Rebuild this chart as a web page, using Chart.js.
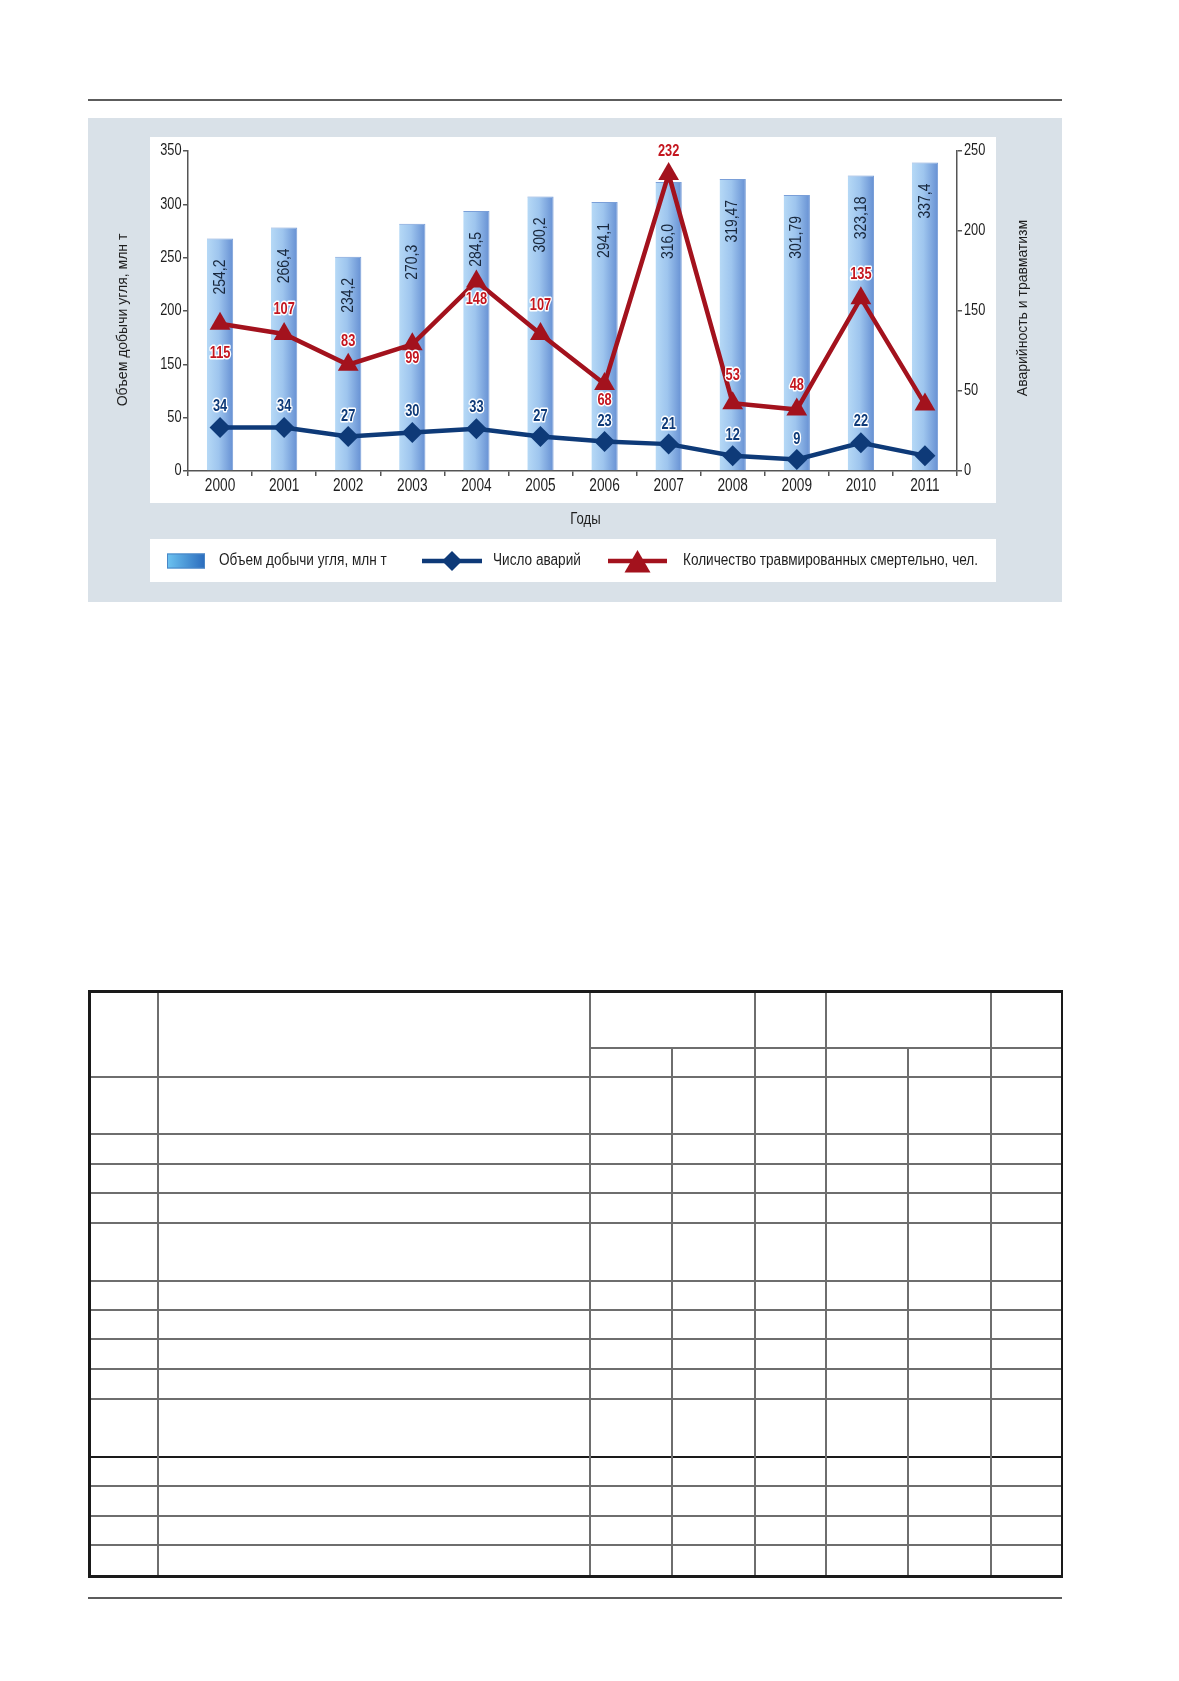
<!DOCTYPE html>
<html lang="ru">
<head>
<meta charset="utf-8">
<title>Объем добычи угля, аварийность и травматизм</title>
<script src="https://cdn.jsdelivr.net/npm/chart.js@4.4.1/dist/chart.umd.min.js"></script>
<style>
  html, body { margin: 0; padding: 0; background: #fff; }
  body { width: 1179px; height: 1681px; position: relative; overflow: hidden; }
  .rule { position: absolute; left: 88px; width: 974px; height: 2px; background: #5c5c5c; }
  #panel { position: absolute; left: 88px; top: 118px; width: 974px; height: 484px; background: #d9e1e8; }
  .white { position: absolute; background: #fff; }
  #chartBox { position: absolute; left: 0; top: 0; width: 974px; height: 484px; }
  #grid div { position: absolute; }
</style>
</head>
<body>
<div class="rule" style="top:99px"></div>
<div id="panel">
  <div class="white" style="left:62px;top:19px;width:846px;height:366px"></div>
  <div class="white" style="left:62px;top:421px;width:846px;height:43px"></div>
  <div id="chartBox"><canvas id="mainChart"></canvas></div>
</div>
<div id="grid"></div>
<div class="rule" style="top:1597px"></div>

<script>
// данные
var years = ['2000', '2001', '2002', '2003', '2004', '2005', '2006', '2007', '2008', '2009', '2010', '2011'];
var coalOutput = [254.2, 266.4, 234.2, 270.3, 284.5, 300.2, 294.1, 316.0, 319.47, 301.79, 323.18, 337.4];
var coalOutputText = ['254,2', '266,4', '234,2', '270,3', '284,5', '300,2', '294,1', '316,0', '319,47', '301,79', '323,18', '337,4'];
var accidents = [34, 34, 27, 30, 33, 27, 23, 21, 12, 9, 22, 12];
var fatalities = [115, 107, 83, 99, 148, 107, 68, 232, 53, 48, 135, 52];
var leftTickLabels = ['0', '50', '150', '200', '250', '300', '350'];
var rightTickLabels = ['0', '50', '150', '200', '250'];

// оформление
var FONT = '"Liberation Sans", Arial, Helvetica, sans-serif';
var NAVY = '#0e3a78';
var RED = '#a3121d';
var AXIS = '#555555';
var TEXT = '#1e1e1e';
var barLabelShift = [0, 0, 0, 0, 0, 0, 0, 21, 0, 0, 0, 0];    // подпись 2007 ниже из-за треугольника
var accidentLabelDy = [-21, -21, -20, -21, -21, -20, -20, -20, -20, -20, -21, null];
var fatalityLabelDy = [30, -24, -23, 14, 18, -28, 17, -22, -28, -24, -24, null];

// узкий шрифт: обычный Liberation Sans, сжатый по горизонтали
function narrowText(ctx, text, x, y, o) {
    ctx.save();
    ctx.translate(x, y);
    if (o.rotate) ctx.rotate(o.rotate);
    ctx.scale(o.squeeze || 0.82, 1);
    ctx.font = (o.weight ? o.weight + ' ' : '') + o.size + 'px ' + FONT;
    ctx.textAlign = o.align || 'center';
    ctx.textBaseline = 'middle';
    if (o.halo) {
        ctx.lineJoin = 'round';
        ctx.lineWidth = o.halo;
        ctx.strokeStyle = '#ffffff';
        ctx.strokeText(text, 0, 0);
    }
    ctx.fillStyle = o.color || TEXT;
    ctx.fillText(text, 0, 0);
    ctx.restore();
}

// градиент столбиков по ширине столбика
function barGradient(c) {
    var chart = c.chart;
    if (!chart.chartArea || c.type !== 'data') return '#9fc6ef';
    var xs = chart.scales.x;
    var x = xs.getPixelForValue(c.dataIndex);
    var half = xs.width / years.length * 0.41 / 2;
    var g = chart.ctx.createLinearGradient(x - half, 0, x + half, 0);
    g.addColorStop(0, '#b6d9f6');
    g.addColorStop(0.45, '#9ec5ee');
    g.addColorStop(1, '#6690d3');
    return g;
}

// подписи делений осей (по позициям шкал Chart.js)
var tickText = {
    id: 'tickText',
    afterDraw: function(chart) {
        var ctx = chart.ctx;
        var xs = chart.scales.x, ys = chart.scales.y, y2 = chart.scales.y2;
        xs.ticks.forEach(function(t, i) {
            narrowText(ctx, t.label, xs.getPixelForTick(i), xs.top + 15, {size: 18, squeeze: 0.76});
        });
        ys.ticks.forEach(function(t, i) {
            narrowText(ctx, t.label, ys.right - 6.5, ys.getPixelForTick(i), {size: 16, squeeze: 0.8, align: 'right'});
        });
        y2.ticks.forEach(function(t, i) {
            narrowText(ctx, t.label, y2.left + 7, y2.getPixelForTick(i), {size: 16, squeeze: 0.8, align: 'left'});
        });
        narrowText(ctx, xs.options.title.text, (xs.left + xs.right) / 2 + 13, xs.top + 49, {size: 16, squeeze: 0.82});
    }
};

// подписи значений на столбиках (под линиями)
var barLabels = {
    id: 'barLabels',
    afterDatasetDraw: function(chart, args) {
        if (args.index !== 0) return;
        args.meta.data.forEach(function(el, i) {
            narrowText(chart.ctx, coalOutputText[i], el.x, el.y + 21 + barLabelShift[i],
                {size: 17, squeeze: 0.82, align: 'right', rotate: -Math.PI / 2, color: '#18273c'});
        });
    }
};

// подписи точек линий с белой обводкой
var pointLabels = {
    id: 'pointLabels',
    afterDatasetsDraw: function(chart) {
        [[1, accidentLabelDy, NAVY], [2, fatalityLabelDy, '#c4161f']].forEach(function(s) {
            var meta = chart.getDatasetMeta(s[0]);
            var values = chart.data.datasets[s[0]].data;
            meta.data.forEach(function(pt, i) {
                if (s[1][i] === null) return;
                narrowText(chart.ctx, String(values[i]), pt.x, pt.y + s[1][i],
                    {size: 16, weight: 'bold', squeeze: 0.8, color: s[2], halo: 3});
            });
        });
    }
};

// названия осей (обе читаются снизу вверх) и легенда
var extras = {
    id: 'extras',
    afterDraw: function(chart) {
        var ctx = chart.ctx;
        var ds = chart.data.datasets;
        ctx.save();
        ctx.fillStyle = TEXT;
        ctx.font = '14px ' + FONT;
        ctx.textAlign = 'center';
        ctx.textBaseline = 'middle';
        [[35, 202, chart.options.scales.y.title.text], [935, 190, chart.options.scales.y2.title.text]].forEach(function(t) {
            ctx.save();
            ctx.translate(t[0], t[1]);
            ctx.rotate(-Math.PI / 2);
            ctx.fillText(t[2], 0, 0);
            ctx.restore();
        });

        var cy = 443;
        // значок столбика
        var g = ctx.createLinearGradient(79, 0, 117, 0);
        g.addColorStop(0, '#6cc3f1');
        g.addColorStop(1, '#2b6cbd');
        ctx.fillStyle = g;
        ctx.fillRect(79, cy - 7.5, 38, 15);
        ctx.strokeStyle = '#4a86c6';
        ctx.lineWidth = 1;
        ctx.strokeRect(79.5, cy - 7, 37, 14);
        // линии с маркерами
        [[1, 334, 60, 'rectRot', 10, 0], [2, 520, 59, 'triangle', 15, 4]].forEach(function(it) {
            var d = ds[it[0]];
            ctx.strokeStyle = d.borderColor;
            ctx.lineWidth = 4.5;
            ctx.beginPath();
            ctx.moveTo(it[1], cy);
            ctx.lineTo(it[1] + it[2], cy);
            ctx.stroke();
            ctx.fillStyle = d.borderColor;
            Chart.helpers.drawPoint(ctx, {pointStyle: it[3], radius: it[4], rotation: 0, borderWidth: 0},
                it[1] + it[2] / 2, cy + it[5]);
        });
        ctx.restore();
        [[0, 131], [1, 405], [2, 595]].forEach(function(it) {
            narrowText(ctx, ds[it[0]].label, it[1], cy, {size: 16, squeeze: 0.85, align: 'left'});
        });
    }
};

var axisGrid = {drawOnChartArea: false, color: AXIS, lineWidth: 1.5, tickLength: 5};
var axisBorder = {color: AXIS, width: 1.5};

var myChart = new Chart(document.getElementById('mainChart'), {
    type: 'bar',
    data: {
        labels: years,
        datasets: [
            {
                type: 'bar',
                label: 'Объем добычи угля, млн т',
                data: coalOutput,
                yAxisID: 'y',
                order: 3,
                backgroundColor: barGradient,
                borderColor: '#7a9fd8',
                borderWidth: {top: 1, right: 1, left: 0, bottom: 0},
                categoryPercentage: 1,
                barPercentage: 0.41
            },
            {
                type: 'line',
                label: 'Число аварий',
                data: accidents,
                yAxisID: 'y2',
                order: 1,
                borderColor: NAVY,
                backgroundColor: NAVY,
                borderWidth: 4.5,
                tension: 0,
                pointStyle: 'rectRot',
                pointRadius: 10.5,
                pointHoverRadius: 10.5,
                pointBorderWidth: 0,
                pointBackgroundColor: NAVY
            },
            {
                type: 'line',
                label: 'Количество травмированных смертельно, чел.',
                data: fatalities,
                yAxisID: 'y2',
                order: 2,
                borderColor: RED,
                backgroundColor: RED,
                borderWidth: 4.5,
                tension: 0,
                pointStyle: 'triangle',
                pointRadius: 12,
                pointHoverRadius: 12,
                pointBorderWidth: 0,
                pointBackgroundColor: RED
            }
        ]
    },
    options: {
        responsive: true,
        maintainAspectRatio: false,
        animation: false,
        layout: {padding: {top: 33, left: 0, right: 0, bottom: 0}},
        plugins: {legend: {display: false}, tooltip: {enabled: false}},
        scales: {
            x: {
                offset: true,
                grid: Object.assign({offset: true}, axisGrid),
                border: axisBorder,
                ticks: {display: false},
                title: {display: false, text: 'Годы'},
                afterFit: function(s) { s.height = 131; }
            },
            y: {
                position: 'left',
                min: 0,
                max: 350,
                afterBuildTicks: function(s) {
                    s.ticks = leftTickLabels.map(function(t, i) { return {value: i * 350 / (leftTickLabels.length - 1)}; });
                },
                ticks: {display: false, callback: function(v, i) { return leftTickLabels[i]; }},
                grid: axisGrid,
                border: axisBorder,
                title: {display: false, text: 'Объем добычи угля, млн т'},
                afterFit: function(s) { s.width = 100; }
            },
            y2: {
                position: 'right',
                min: 0,
                max: 250,
                afterBuildTicks: function(s) {
                    s.ticks = rightTickLabels.map(function(t, i) { return {value: i * 250 / (rightTickLabels.length - 1)}; });
                },
                ticks: {display: false, callback: function(v, i) { return rightTickLabels[i]; }},
                grid: axisGrid,
                border: axisBorder,
                title: {display: false, text: 'Аварийность и травматизм'},
                afterFit: function(s) { s.width = 105; }
            }
        }
    },
    plugins: [barLabels, pointLabels, tickText, extras]
});

// пустая таблица под диаграммой
var colX = [89, 158, 590, 672, 755, 826, 908, 991, 1062];
var rowY = [991, 1048, 1077, 1134, 1164, 1193, 1223, 1281, 1310, 1339, 1369, 1399, 1457, 1486, 1516, 1545, 1576];
var grid = document.getElementById('grid');
function rule(x, y, w, h, color) {
    var d = document.createElement('div');
    d.style.left = x + 'px';
    d.style.top = y + 'px';
    d.style.width = w + 'px';
    d.style.height = h + 'px';
    d.style.background = color;
    grid.appendChild(d);
}
var top0 = rowY[0], bottom0 = rowY[rowY.length - 1];
// горизонтальные
rule(colX[2], rowY[1] - 0.75, colX[8] - colX[2], 1.5, '#6e6e6e');
for (var r = 2; r < rowY.length - 1; r++) {
    rule(colX[0], rowY[r] - 0.75, colX[8] - colX[0], r === 12 ? 2 : 1.5, r === 12 ? '#1a1a1a' : '#6e6e6e');
}
// вертикальные
for (var c = 1; c < colX.length - 1; c++) {
    var from = (c === 3 || c === 6) ? rowY[1] : top0;
    rule(colX[c] - 0.75, from, 1.5, bottom0 - from, '#6e6e6e');
}
// рамка
rule(colX[0] - 1, top0 - 1, colX[8] - colX[0] + 2, 2.5, '#1a1a1a');
rule(colX[0] - 1, bottom0 - 1, colX[8] - colX[0] + 2, 2.5, '#1a1a1a');
rule(colX[0] - 1, top0 - 1, 2.5, bottom0 - top0 + 2, '#1a1a1a');
rule(colX[8] - 1.5, top0 - 1, 2.5, bottom0 - top0 + 2, '#1a1a1a');
</script>
</body>
</html>
